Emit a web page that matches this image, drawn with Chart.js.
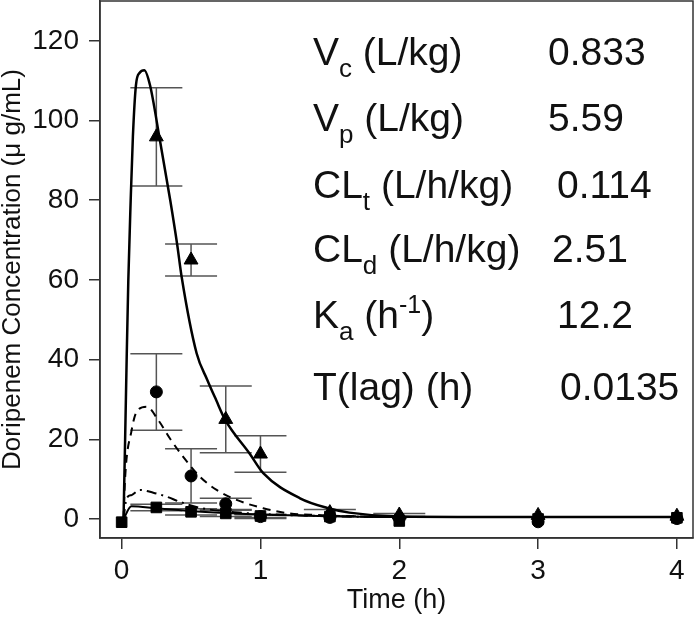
<!DOCTYPE html>
<html>
<head>
<meta charset="utf-8">
<script src="https://cdn.jsdelivr.net/npm/chart.js@4"></script>
<style>
  html, body { margin: 0; padding: 0; background: #fff; }
</style>
</head>
<body>
<canvas id="myChart" width="700" height="619"></canvas>
<script>
const FONT = '"Liberation Sans", Arial, Helvetica, sans-serif';

const timeTicks = [0, 1, 2, 3, 4];
const concTicks = [0, 20, 40, 60, 80, 100, 120];

const triTime = [0.25, 0.5, 0.75, 1, 1.5, 2, 3, 4];
const triConc = [95.9, 65.0, 25.0, 16.3, 1.6, 1.0, 0.9, 0.7];
const triErr  = [12.3, 4.0, 8.4, 4.6, 0.8, 0.4, 0, 0];

const cirTime = [0.25, 0.5, 0.75, 1, 1.5, 2, 3, 4];
const cirConc = [31.9, 10.8, 3.8, 0.6, 0.4, 0.2, -0.7, 0.1];
const cirErr  = [9.6, 6.8, 1.4, 0.5, 0, 0, 0, 0];

const sqTime = [0, 0.25, 0.5, 0.75, 1, 1.5, 2, 3, 4];
const sqConc = [-0.8, 2.9, 1.8, 1.4, 0.75, 0.6, -0.5, 0, 0.3];
const sqErr  = [0, 0.8, 0.8, 0.8, 0.4, 0, 0, 0, 0];

// fitted curves
const fitTime1 = [0.0135, 0.025, 0.036, 0.048, 0.065, 0.081, 0.103, 0.13, 0.163, 0.204, 0.271, 0.35, 0.40, 0.432, 0.54, 0.617, 0.68, 0.744, 0.924, 1.02, 1.285, 1.49, 1.64, 2.0, 2.5, 3, 4];
const fitConc1 = [0, 20, 40, 60, 80, 96, 108.9, 112, 112.6, 108.9, 96, 80, 68.9, 60.8, 41.6, 34.9, 29.9, 25, 16.3, 11.5, 5.2, 2.7, 1.6, 0.6, 0.5, 0.5, 0.5];

const fitTime2 = [0.0135, 0.024, 0.072, 0.108, 0.18, 0.264, 0.348, 0.432, 0.564, 0.684, 0.828, 1.02, 1.21, 1.40, 2, 3, 4];
const fitConc2 = [0, 9.8, 22.3, 26.9, 28.2, 24.8, 20.2, 16.1, 10.6, 7.3, 4.8, 2.7, 1.4, 1.0, 0.5, 0.5, 0.5];

const fitTime3 = [0.0135, 0.036, 0.072, 0.132, 0.228, 0.324, 0.42, 0.564, 0.85, 1.19, 2, 4];
const fitConc3 = [0, 5.2, 6.0, 7.3, 6.6, 5.6, 4.3, 2.8, 1.6, 1.0, 0.5, 0.5];

const fitTime4 = [0.0135, 0.07, 0.25, 0.5, 0.75, 1, 1.5, 2, 4];
const fitConc4 = [0, 3.2, 2.7, 2.0, 1.5, 1.1, 0.7, 0.5, 0.5];

// parameter table
const paramNames  = [['V', 'c', ' (L/kg)'], ['V', 'p', ' (L/kg)'], ['CL', 't', ' (L/h/kg)'], ['CL', 'd', ' (L/h/kg)'], ['K', 'a', ' (h', '-1', ')'], ['T(lag) (h)']];
const paramValues = ['0.833', '5.59', '0.114', '2.51', '12.2', '0.0135'];
const paramBase   = [65, 131, 198, 262, 328, 400];
const paramValX   = [548, 548, 557, 552, 557, 560];

function pts(xs, ys) {
  return xs.map((x, i) => ({x: x, y: ys[i]}));
}

function curve(xs, ys, width, dash) {
  return {
    data: pts(xs, ys),
    showLine: true,
    borderColor: '#000',
    borderWidth: width,
    borderDash: dash,
    pointRadius: 0,
    cubicInterpolationMode: 'monotone',
    order: 2
  };
}

function marks(xs, ys, style, r) {
  return {
    data: pts(xs, ys),
    showLine: false,
    pointStyle: style,
    pointRadius: r,
    backgroundColor: '#000',
    borderColor: '#000',
    borderWidth: 1,
    order: 1
  };
}

const errGroups = [
  [triTime, triConc, triErr],
  [cirTime, cirConc, cirErr],
  [sqTime, sqConc, sqErr]
];

const errorBars = {
  id: 'errorBars',
  beforeDatasetsDraw(chart) {
    const c = chart.ctx, xs = chart.scales.x, ys = chart.scales.y;
    c.save();
    c.strokeStyle = '#555';
    c.lineWidth = 1.5;
    errGroups.forEach(g => {
      g[0].forEach((t, i) => {
        if (!g[2][i]) return;
        const px = xs.getPixelForValue(t);
        const hi = ys.getPixelForValue(g[1][i] + g[2][i]);
        const lo = ys.getPixelForValue(g[1][i] - g[2][i]);
        c.beginPath();
        c.moveTo(px, hi); c.lineTo(px, lo);
        c.moveTo(px - 26, hi); c.lineTo(px + 26, hi);
        c.moveTo(px - 26, lo); c.lineTo(px + 26, lo);
        c.stroke();
      });
    });
    c.restore();
  }
};

const frame = {
  id: 'frame',
  afterDraw(chart) {
    const a = chart.chartArea, c = chart.ctx;
    c.save();
    c.strokeStyle = '#333';
    c.lineWidth = 1.5;
    c.strokeRect(a.left, a.top, a.right - a.left, a.bottom - a.top);
    c.restore();
  }
};

const params = {
  id: 'params',
  afterDraw(chart) {
    const c = chart.ctx;
    c.save();
    c.fillStyle = '#111';
    c.textBaseline = 'alphabetic';
    c.textAlign = 'left';
    paramNames.forEach((segs, i) => {
      let x = 313;
      const y = paramBase[i];
      segs.forEach((s, j) => {
        let size = 39, dy = 0;
        if (j === 1) { size = 26; dy = 12; }
        if (j === 3) { size = 25; dy = -15; }
        c.font = size + 'px ' + FONT;
        c.fillText(s, x, y + dy);
        x += c.measureText(s).width;
      });
      c.font = '39px ' + FONT;
      c.fillText(paramValues[i], paramValX[i], y);
    });
    c.restore();
  }
};

const ctx = document.getElementById('myChart');

myChart = new Chart(ctx, {
  type: 'scatter',
  data: {
    datasets: [
      marks(triTime, triConc, 'triangle', 8),
      marks(cirTime, cirConc, 'circle', 6),
      marks(sqTime, sqConc, 'rect', 7.5),
      curve(fitTime1, fitConc1, 2.5, []),
      curve(fitTime2, fitConc2, 2, [8, 6]),
      curve(fitTime3, fitConc3, 2, [10, 5, 2, 5]),
      curve(fitTime4, fitConc4, 2, [])
    ]
  },
  options: {
    responsive: false,
    animation: false,
    devicePixelRatio: 1,
    layout: { autoPadding: false, padding: { top: 1, right: 7, left: 0, bottom: 0 } },
    scales: {
      x: {
        type: 'linear',
        min: -0.156,
        max: 4.116,
        afterBuildTicks: s => { s.ticks = timeTicks.map(v => ({value: v})); },
        afterFit: s => { s.height = 81; s.paddingLeft = 0; s.paddingRight = 0; s.paddingTop = 0; s.paddingBottom = 0; },
        ticks: { color: '#111', font: { size: 28, family: FONT }, padding: 5, maxRotation: 0, autoSkip: false },
        grid: { display: true, drawOnChartArea: false, drawTicks: true, tickLength: 11, color: '#333', lineWidth: 1.5 },
        border: { display: true, color: '#333', width: 1.5 },
        title: { display: true, text: 'Time (h)', color: '#111', font: { size: 27, family: FONT }, padding: { top: 0, bottom: 2 } }
      },
      y: {
        type: 'linear',
        min: -4.77,
        max: 130,
        afterBuildTicks: s => { s.ticks = concTicks.map(v => ({value: v})); },
        afterFit: s => { s.width = 100; s.paddingLeft = 0; s.paddingRight = 0; s.paddingTop = 0; s.paddingBottom = 0; },
        ticks: { color: '#111', font: { size: 28, family: FONT }, padding: 10 },
        grid: { display: true, drawOnChartArea: false, drawTicks: true, tickLength: 11, color: '#333', lineWidth: 1.5 },
        border: { display: true, color: '#333', width: 1.5 },
        title: { display: true, text: 'Doripenem Concentration (μ g/mL)', color: '#111', font: { size: 26, family: FONT, lineHeight: 1.0 }, padding: { top: 0, bottom: 0 } }
      }
    },
    plugins: {
      legend: { display: false },
      tooltip: { enabled: false }
    }
  },
  plugins: [errorBars, frame, params]
});
</script>
</body>
</html>
